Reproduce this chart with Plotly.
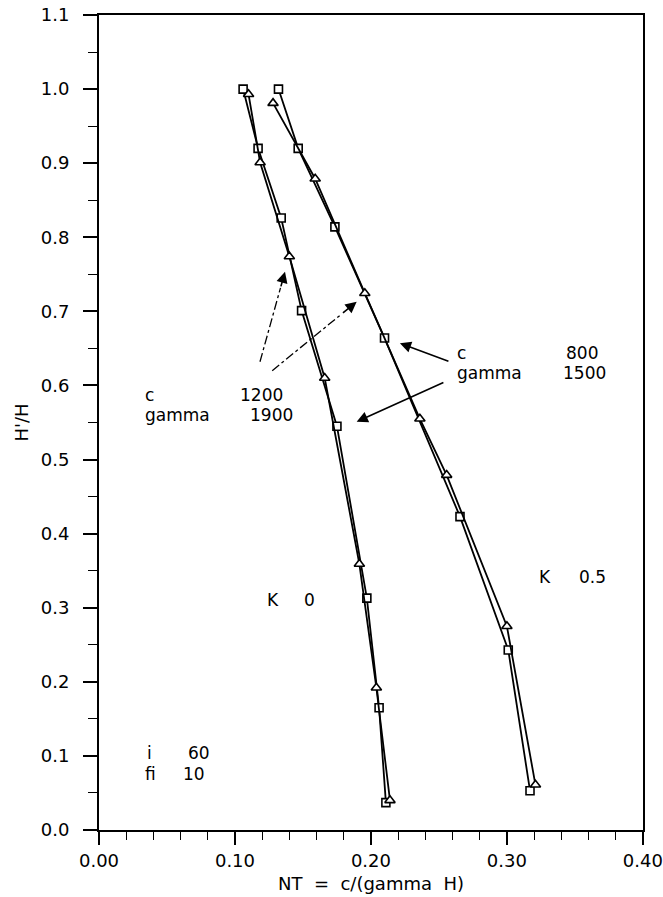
import plotly.graph_objects as go

# Normalised height H'/H and stability number NT = c/(gamma H)
# K = 0 (c = 1200, gamma = 1900)
k0_sq_nt = [0.106, 0.117, 0.134, 0.149, 0.175, 0.197, 0.206, 0.211]
k0_sq_h = [1.000, 0.920, 0.826, 0.701, 0.545, 0.313, 0.165, 0.037]
k0_tri_nt = [0.110, 0.1185, 0.140, 0.166, 0.1915, 0.204, 0.214]
k0_tri_h = [0.993, 0.901, 0.774, 0.610, 0.359, 0.192, 0.040]

# K = 0.5 (c = 800, gamma = 1500)
k5_sq_nt = [0.132, 0.1465, 0.1735, 0.210, 0.2655, 0.301, 0.317]
k5_sq_h = [1.000, 0.920, 0.814, 0.664, 0.423, 0.243, 0.053]
k5_tri_nt = [0.128, 0.159, 0.1955, 0.236, 0.2557, 0.300, 0.321]
k5_tri_h = [0.981, 0.879, 0.7245, 0.555, 0.479, 0.275, 0.061]

y_ticks = [0.0, 0.1, 0.2, 0.3, 0.4, 0.5, 0.6, 0.7, 0.8, 0.9, 1.0, 1.1]
x_ticks = [0.0, 0.1, 0.2, 0.3, 0.4]

FONT = "DejaVu Sans"
INK = "black"

fig = go.Figure()

def series(xs, ys, symbol, size):
    fig.add_trace(go.Scatter(
        x=xs, y=ys, mode="lines+markers",
        line=dict(color=INK, width=1.8),
        marker=dict(symbol=symbol, size=size, color="white",
                    line=dict(color=INK, width=1.6)),
        showlegend=False, hoverinfo="skip"))

series(k0_sq_nt, k0_sq_h, "square", 8)
series(k0_tri_nt, k0_tri_h, "triangle-up", 9)
series(k5_sq_nt, k5_sq_h, "square", 8)
series(k5_tri_nt, k5_tri_h, "triangle-up", 9)

# Leader arrows from the parameter blocks to the curves
arrows = [
    # (tail_x, tail_y, head_x, head_y, dashed)
    (0.1184, 0.632, 0.1368, 0.7536, True),
    (0.1274, 0.620, 0.1895, 0.713, True),
    (0.2581, 0.632, 0.2213, 0.657, False),
    (0.2544, 0.605, 0.1895, 0.551, False),
]
for tx, ty, hx, hy, dashed in arrows:
    if dashed:
        f = 0.82
        mx, my = tx + (hx - tx) * f, ty + (hy - ty) * f
        fig.add_trace(go.Scatter(
            x=[tx, mx], y=[ty, my], mode="lines",
            line=dict(color=INK, width=1.3, dash="dashdot"),
            showlegend=False, hoverinfo="skip"))
        sx, sy = mx, my
    else:
        sx, sy = tx, ty
    fig.add_annotation(x=hx, y=hy, ax=sx, ay=sy, xref="x", yref="y",
                       axref="x", ayref="y", text="", showarrow=True,
                       arrowhead=2, arrowsize=1.4, arrowwidth=1.6,
                       arrowcolor=INK)

def label(x, y, text, anchor):
    fig.add_annotation(x=x, y=y, xref="x", yref="y", text=text,
                       showarrow=False, xanchor=anchor, yanchor="middle",
                       font=dict(family=FONT, size=17, color=INK))

label(0.0324, 0.587, "c", "left")
label(0.1368, 0.587, "1200", "right")
label(0.0324, 0.560, "gamma", "left")
label(0.1441, 0.560, "1900", "right")

label(0.2618, 0.6435, "c", "left")
label(0.3684, 0.6435, "800", "right")
label(0.2618, 0.6166, "gamma", "left")
label(0.3743, 0.6166, "1500", "right")

label(0.322, 0.342, "K", "left")
label(0.3743, 0.342, "0.5", "right")
label(0.122, 0.311, "K", "left")
label(0.1603, 0.311, "0", "right")

label(0.0335, 0.1045, "i", "left")
label(0.0831, 0.1045, "60", "right")
label(0.0324, 0.075, "fi", "left")
label(0.0794, 0.075, "10", "right")

fig.update_xaxes(
    range=[0, 0.4001], tickvals=x_ticks,
    ticktext=[f"{v:.2f}" for v in x_ticks],
    ticks="outside", ticklen=13, tickwidth=1.6, tickcolor=INK,
    minor=dict(dtick=0.02, ticks="outside", ticklen=8, tickwidth=1.4,
               tickcolor=INK),
    showline=True, linecolor=INK, linewidth=2, mirror=True,
    showgrid=False, zeroline=False,
    automargin=False, ticklabeloverflow="allow",
    tickfont=dict(family=FONT, size=18, color=INK),
    title=dict(text="NT  =  c/(gamma  H)", standoff=8,
               font=dict(family=FONT, size=18, color=INK)),
)
fig.update_yaxes(
    range=[0, 1.1], tickvals=y_ticks,
    ticktext=[f"{v:.1f}" for v in y_ticks],
    ticks="outside", ticklen=14, tickwidth=1.6, tickcolor=INK,
    minor=dict(dtick=0.05, ticks="outside", ticklen=9, tickwidth=1.4,
               tickcolor=INK),
    showline=True, linecolor=INK, linewidth=2, mirror=True,
    showgrid=False, zeroline=False,
    automargin=False, ticklabelstandoff=10,
    tickfont=dict(family=FONT, size=18, color=INK),
    title=dict(text="H'/H", standoff=7,
               font=dict(family=FONT, size=18, color=INK)),
)

fig.update_layout(
    width=663, height=897,
    margin=dict(l=99, r=20, t=15, b=67),
    paper_bgcolor="white", plot_bgcolor="white",
    showlegend=False,
)

fig.write_html("out.html")
